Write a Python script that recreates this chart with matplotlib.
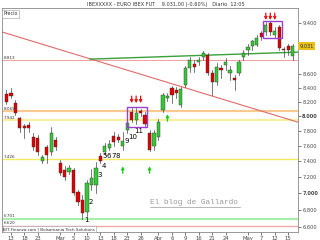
import matplotlib
matplotlib.use("Agg")
import matplotlib.pyplot as plt
from matplotlib.patches import Rectangle
from matplotlib.lines import Line2D
from matplotlib.ticker import FixedLocator, NullLocator

dates = ["12", "13", "16", "17", "18", "19", "20", "23", "24", "25", "26", "27",
         "2", "3", "4", "5", "6", "9", "10", "11", "12", "13", "16", "17", "18",
         "19", "20", "23", "24", "25", "26", "27", "30", "31",
         "1", "2", "3", "6", "7", "8", "9", "14", "15", "16", "17", "20", "21",
         "22", "23", "24", "27", "28", "29", "30",
         "4", "5", "6", "7", "8", "11", "12", "13", "14", "15", "18"]
opens = [8312, 8327, 8183, 7974, 7863, 7877, 7715, 7702, 7401, 7583, 7517, 7675,
         7375, 7286, 7261, 7286, 7013, 6917, 6774, 7099, 7099, 7465, 7517, 7569, 7729,
         7715, 7596, 7809, 8056, 7946, 8070, 8015, 7769, 7596,
         7715, 8084, 8255, 8399, 8370, 8155, 8442, 8695, 8755, 8785, 8861, 8892, 8620,
         8486, 8695, 8740, 8620, 8546, 8620, 8861,
         8970, 9033, 9048, 9239, 9255, 9400, 9207, 9335, 8985, 9033, 8877]
highs = [8370, 8399, 8226, 7987, 7891, 7918, 7769, 7742, 7478, 7609, 7850, 7715,
         7414, 7336, 7349, 7311, 7038, 6977, 7161, 7298, 7388, 7504, 7636, 7675, 7782,
         7755, 7782, 7946, 8112, 8112, 8098, 8056, 7809, 7809,
         7960, 8327, 8327, 8428, 8413, 8413, 8725, 8861, 8816, 8861, 8954, 8923, 8665,
         8770, 8740, 8846, 8725, 8590, 8816, 8970,
         9064, 9127, 9207, 9271, 9416, 9433, 9335, 9367, 9017, 9064, 9064]
lows = [8169, 8255, 8015, 7782, 7702, 7782, 7543, 7478, 7375, 7375, 7478, 7543,
        7223, 7161, 7236, 6977, 6857, 6701, 6730, 7038, 7001, 7375, 7478, 7543, 7596,
        7649, 7543, 7769, 7918, 7891, 8001, 7863, 7530, 7543,
        7675, 8056, 8212, 8183, 8255, 8127, 8413, 8635, 8635, 8740, 8816, 8590, 8298,
        8442, 8546, 8665, 8516, 8370, 8590, 8816,
        8892, 8970, 9033, 9127, 9207, 9207, 9159, 8970, 8861, 8892, 8816]
closes = [8198, 8284, 8043, 7836, 7836, 7836, 7583, 7517, 7452, 7478, 7769, 7583,
          7248, 7198, 7311, 7001, 6893, 6762, 7124, 7186, 7311, 7401, 7596, 7622, 7649,
          7675, 7662, 7905, 7946, 8043, 8043, 7891, 7543, 7769,
          7918, 8298, 8284, 8298, 8327, 8384, 8695, 8816, 8710, 8816, 8923, 8620, 8486,
          8710, 8665, 8785, 8665, 8516, 8785, 8923,
          9017, 9111, 9159, 9175, 9367, 9255, 9271, 9001, 8970, 8970, 9031]

# eje de fechas
xtick_pos = [1, 4, 7, 12, 15, 18, 21, 24, 27, 30, 34, 37, 40, 43, 46, 49, 54, 57, 60, 63]
xtick_labels = ["13", "18", "23", "Mar", "5", "10", "13", "18", "23", "26", "Abr",
                "6", "9", "16", "21", "24", "May", "7", "12", "15"]
ytick_vals = [6600, 6800, 7000, 7200, 7400, 7600, 7800, 8000, 8200, 8400, 8600, 9400]
last_price = 9031

# niveles horizontales (soportes / resistencias)
levels = [8813, 8069, 7942, 7426, 6701, 6620]
level_colors = ["#f2a0a0", "#f8c990", "#f6f0a0", "#f4ea60", "#a8eea8", "#f2a8a8"]
level_widths = [0.7, 1.6, 1.6, 1.0, 1.6, 1.0]

# lineas de tendencia (indice, precio)
red_trend = ([-1.0, 65.2], [9256, 7918])
green_trend = ([18.7, 65.2], [8831, 8939])

# cuenta de ondas
count_labels = ["1", "2", "3", "4", "5", "6", "7", "8", "9", "10", "11"]
count_x = [17.8, 18.9, 20.9, 21.8, 22.0, 22.95, 23.9, 24.85, 26.9, 28.2, 29.5]
count_y = [6681, 6893, 7223, 7336, 7465, 7465, 7465, 7465, 7665, 7712, 7795]

red_arrows_x = [28, 29, 30, 58, 59, 60]
red_arrows_top = [8284, 8284, 8284, 9564, 9564, 9564]
red_arrows_tip = [8183, 8183, 8183, 9449, 9449, 9449]
green_arrows_x = [26, 32, 36]
green_arrows_tail = [7248, 7248, 7932]
green_arrows_tip = [7336, 7336, 8029]

boxes = [(27.0, 31.4, 7850, 8127), (57.4, 61.6, 9159, 9433)]

W, H = 320, 240
fig = plt.figure(figsize=(W / 100, H / 100), dpi=100)
fig.patch.set_facecolor("white")
ax = fig.add_axes([2 / W, 1 - 232 / H, 296 / W, 224 / H])
ax.set_yscale("log")
ax.set_xlim(-1.0, 65.2)
ax.set_ylim(6548, 9648)

for lv, c, lw in zip(levels, level_colors, level_widths):
    ax.axhline(lv, color=c, lw=lw, zorder=1)

ax.plot(*red_trend, color="#e06a6a", lw=0.8, zorder=2)
ax.plot(*green_trend, color="#3aa03a", lw=1.0, zorder=2)

bw = 0.72
for i, (o, h, l, c) in enumerate(zip(opens, highs, lows, closes)):
    up = c >= o
    ax.plot([i, i], [l, h], color="#444444", lw=0.5, zorder=3)
    body = Rectangle((i - bw / 2, min(o, c)), bw, max(abs(c - o), 10),
                     facecolor="#36c936" if up else "#e00000",
                     edgecolor="#333333", lw=0.3, zorder=4)
    ax.add_patch(body)

for (x0, x1, y0, y1) in boxes:
    ax.add_patch(Rectangle((x0, y0), x1 - x0, y1 - y0, fill=False,
                           edgecolor="#9a3fd0", lw=1.0, zorder=5))

for x, t, b in zip(red_arrows_x, red_arrows_top, red_arrows_tip):
    ax.annotate("", xy=(x, b), xytext=(x, t),
                arrowprops=dict(arrowstyle="-|>", color="#ee1010", lw=0.9,
                                mutation_scale=4, shrinkA=0, shrinkB=0))
for x, t, b in zip(green_arrows_x, green_arrows_tail, green_arrows_tip):
    ax.annotate("", xy=(x, b), xytext=(x, t),
                arrowprops=dict(arrowstyle="-|>", color="#10d010", lw=0.9,
                                mutation_scale=4, shrinkA=0, shrinkB=0))

for s, x, y in zip(count_labels, count_x, count_y):
    ax.text(x, y, s, fontsize=5, ha="center", va="center", color="black")

# etiquetas de niveles a la izquierda, justo encima de cada linea
for lv in levels:
    ax.text(-0.7, lv * 1.001, f"{lv / 1000:.3f}", fontsize=3.0, ha="left", va="bottom",
            color="#333333", zorder=6)

ax.yaxis.tick_right()
ax.yaxis.set_major_locator(FixedLocator(ytick_vals))
ax.yaxis.set_minor_locator(NullLocator())
ax.set_yticklabels([f"{v / 1000:.3f}" for v in ytick_vals])
for lab, v in zip(ax.get_yticklabels(), ytick_vals):
    if v in (7000, 8000):
        lab.set_fontweight("bold")
ax.tick_params(axis="y", labelsize=3.6, length=2, width=0.5, pad=1, colors="#444444")
ax.set_xticks(xtick_pos)
ax.set_xticklabels(xtick_labels)
ax.tick_params(axis="x", labelsize=3.8, length=2, width=0.5, pad=1, colors="#444444")
for sp in ax.spines.values():
    sp.set_color("#888888")
    sp.set_linewidth(0.6)

ax.text(1.005, last_price, f"{last_price / 1000:.3f}", transform=ax.get_yaxis_transform(),
        fontsize=3.6, ha="left", va="center", color="#333333",
        bbox=dict(boxstyle="square,pad=0.25", fc="#e8c21a", ec="none"), zorder=7)

# textos
fig.text(166 / W, 1 - 4.5 / H, "IBEXXXXX - EURO IBEX FUT    9.031,00 (-0,60%)   Diario  12:05",
         fontsize=3.6, ha="center", va="center", color="#333333")
ax.text(0.004, 0.985, "Precio", transform=ax.transAxes, fontsize=3.4, ha="left", va="top",
        color="#333333", bbox=dict(boxstyle="square,pad=0.3", fc="white", ec="#999999", lw=0.4))
ax.text(0.004, 0.004, "BIT-Finanza.com | Bolsamania Tech Solutions", transform=ax.transAxes,
        fontsize=3.0, ha="left", va="bottom", color="#333333",
        bbox=dict(boxstyle="square,pad=0.15", fc="white", ec="#999999", lw=0.4))
fig.text(150 / W, 1 - 203 / H, "El blog de Gallardo", family="Liberation Mono",
         fontsize=5.6, ha="left", va="center", color="#9a9a9a")
fig.add_artist(Line2D([150 / W, 240 / W], [1 - 207 / H, 1 - 207 / H],
                      color="#9a9a9a", lw=0.5))

fig.savefig("out.png", dpi=100)
